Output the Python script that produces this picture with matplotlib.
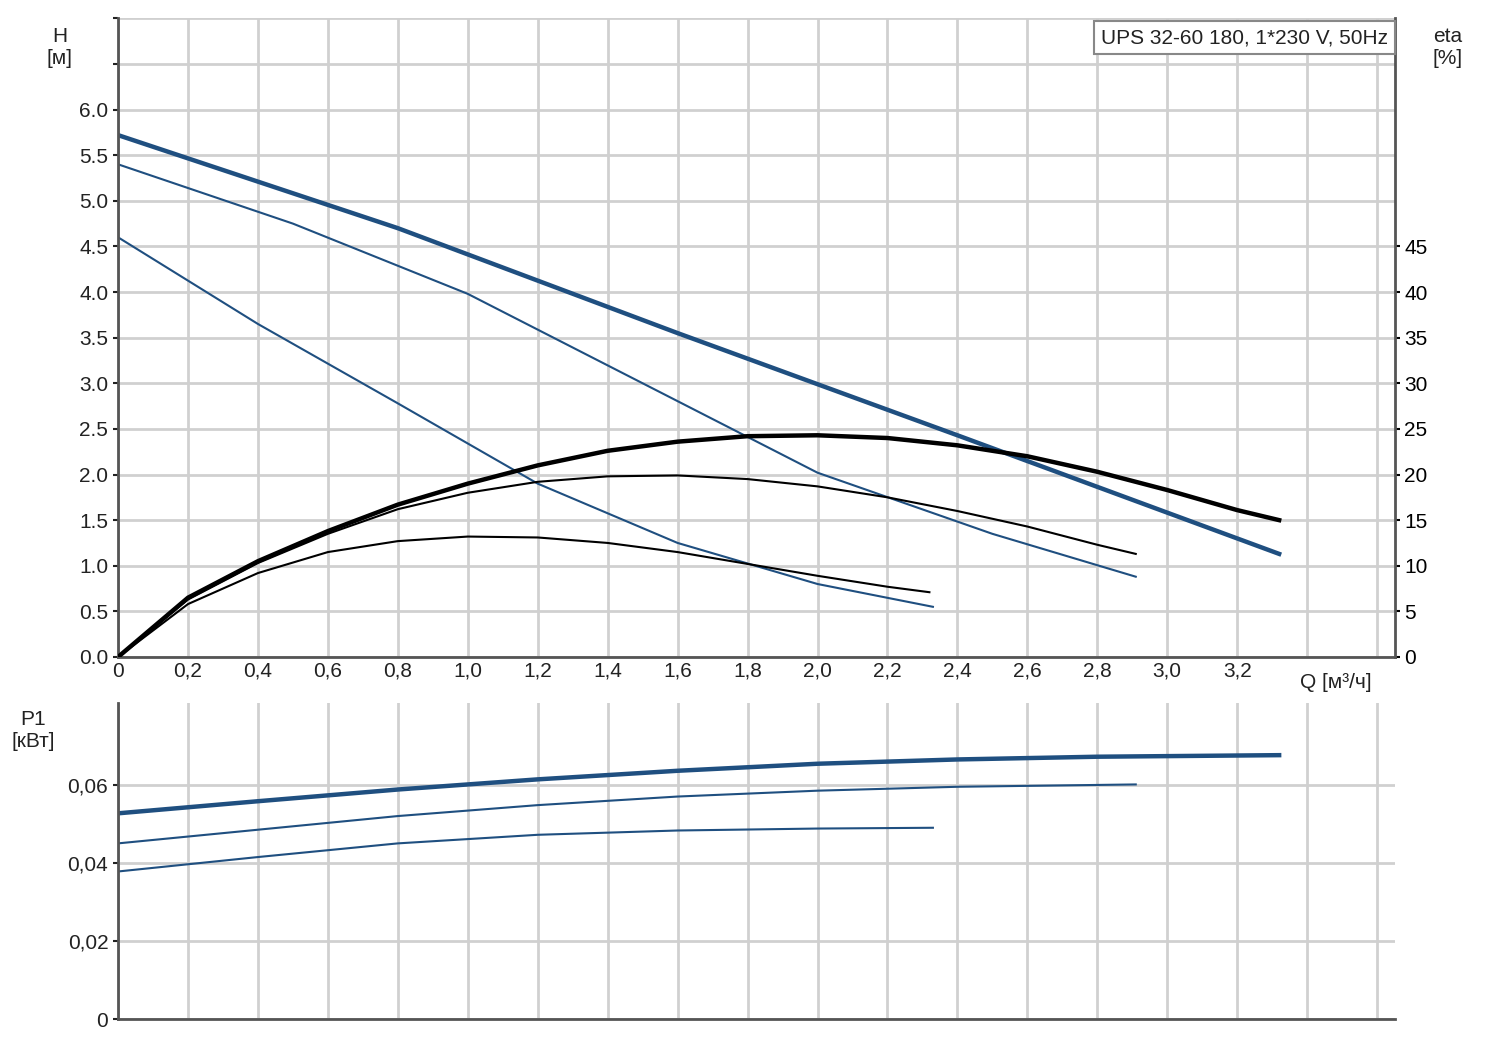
import matplotlib
matplotlib.use("Agg")
import matplotlib.pyplot as plt
import numpy as np

plt.rcParams['font.family'] = ['Liberation Sans', 'DejaVu Sans']

# H curves (m)
h1_q = [0, 0.8, 1.6, 2.4, 3.32]
h1 = [5.72, 4.70, 3.55, 2.43, 1.13]
h2_q = [0, 0.5, 1.0, 1.5, 2.0, 2.5, 2.91]
h2 = [5.40, 4.75, 3.98, 3.00, 2.02, 1.35, 0.88]
h3_q = [0, 0.4, 0.8, 1.2, 1.6, 2.0, 2.33]
h3 = [4.60, 3.65, 2.78, 1.90, 1.25, 0.80, 0.55]

# eta curves (%)
e1_q = [0, 0.2, 0.4, 0.6, 0.8, 1.0, 1.2, 1.4, 1.6, 1.8, 2.0, 2.2, 2.4, 2.6, 2.8, 3.0, 3.2, 3.32]
e1 = [0, 6.5, 10.5, 13.8, 16.7, 19.0, 21.0, 22.6, 23.6, 24.2, 24.3, 24.0, 23.2, 22.0, 20.3, 18.3, 16.1, 15.0]
e2_q = [0, 0.2, 0.4, 0.6, 0.8, 1.0, 1.2, 1.4, 1.6, 1.8, 2.0, 2.2, 2.4, 2.6, 2.8, 2.91]
e2 = [0, 6.3, 10.3, 13.5, 16.2, 18.0, 19.2, 19.8, 19.9, 19.5, 18.7, 17.5, 16.0, 14.3, 12.3, 11.3]
e3_q = [0, 0.2, 0.4, 0.6, 0.8, 1.0, 1.2, 1.4, 1.6, 1.8, 2.0, 2.2, 2.32]
e3 = [0, 5.8, 9.2, 11.5, 12.7, 13.2, 13.1, 12.5, 11.5, 10.2, 8.9, 7.7, 7.1]

# P1 curves (kW)
p1_q = [0, 0.4, 0.8, 1.2, 1.6, 2.0, 2.4, 2.8, 3.32]
p1 = [0.0527, 0.0558, 0.0588, 0.0614, 0.0636, 0.0654, 0.0665, 0.0672, 0.0676]
p2_q = [0, 0.4, 0.8, 1.2, 1.6, 2.0, 2.4, 2.91]
p2 = [0.0450, 0.0485, 0.0520, 0.0548, 0.0570, 0.0585, 0.0595, 0.0601]
p3_q = [0, 0.4, 0.8, 1.2, 1.6, 2.0, 2.33]
p3 = [0.0378, 0.0415, 0.0450, 0.0472, 0.0483, 0.0488, 0.0490]

grid_q = np.round(np.arange(0, 3.61, 0.2), 1)
xlabels = ['0' if v == 0 else (f"{v:.1f}".replace('.', ',') if v <= 3.2 else '') for v in grid_q]

blue = '#1f4f80'
grid = '#d0d0d0'
fig = plt.figure(figsize=(15, 10.47), dpi=100)
ax = fig.add_axes([0.0787, 0.3725, 0.851, 0.610])
ax2 = ax.twinx()
axb = fig.add_axes([0.0787, 0.0267, 0.851, 0.302])

for a in (ax, axb):
    a.set_xlim(0, 3.65)
    a.set_xticks(grid_q)
    a.grid(True, color=grid, lw=2)
    a.set_axisbelow(True)
    for s in ('top', 'right'):
        a.spines[s].set_visible(False)
    a.spines['left'].set_linewidth(2)
    a.spines['bottom'].set_linewidth(2)
    a.spines['left'].set_color('#555555')
    a.spines['bottom'].set_color('#555555')
    a.tick_params(labelsize=15, colors='#222222', width=1.5)

ax.set_ylim(0, 7.0)
hv = np.arange(0, 7.01, 0.5)
ax.set_yticks(hv)
ax.set_yticklabels([f"{v:.1f}" if v <= 6.0 else '' for v in hv])
ax.set_xticklabels(xlabels)
ax.tick_params(axis='x', length=0)
ax.tick_params(axis='y', which='major')
ax2.set_ylim(0, 70)
ax2.set_yticks(np.arange(0, 46, 5))
ax2.tick_params(labelsize=15, width=1.5)
for s in ('top', 'left', 'bottom'):
    ax2.spines[s].set_visible(False)
ax2.spines['right'].set_linewidth(2)
ax2.spines['right'].set_color('#555555')

ax.plot(h1_q, h1, color=blue, lw=3.2)
ax.plot(h2_q, h2, color=blue, lw=1.5)
ax.plot(h3_q, h3, color=blue, lw=1.5)
ax2.plot(e1_q, e1, color='black', lw=3.2)
ax2.plot(e2_q, e2, color='black', lw=1.5)
ax2.plot(e3_q, e3, color='black', lw=1.5)

axb.set_ylim(0, 0.081)
axb.set_yticks([0, 0.02, 0.04, 0.06])
axb.set_yticklabels(['0', '0,02', '0,04', '0,06'])
axb.set_xticklabels([])
axb.tick_params(axis='x', length=0)
axb.plot(p1_q, p1, color=blue, lw=3.2)
axb.plot(p2_q, p2, color=blue, lw=1.5)
axb.plot(p3_q, p3, color=blue, lw=1.5)

fig.text(0.040, 0.955, 'H\n[м]', fontsize=15, ha='center', va='center', color='#222222')
fig.text(0.965, 0.955, 'eta\n[%]', fontsize=15, ha='center', va='center', color='#222222')
fig.text(0.022, 0.302, 'P1\n[кВт]', fontsize=15, ha='center', va='center', color='#222222')
fig.text(0.8667, 0.348, 'Q [м³/ч]', fontsize=15, ha='left', va='center', color='#222222')
fig.text(0.9253, 0.964, 'UPS 32-60 180, 1*230 V, 50Hz', fontsize=15, ha='right', va='center',
         color='#222222', bbox=dict(boxstyle='square,pad=0.35', fc='white', ec='#888888', lw=1.5))

fig.savefig('out.png', dpi=100)
